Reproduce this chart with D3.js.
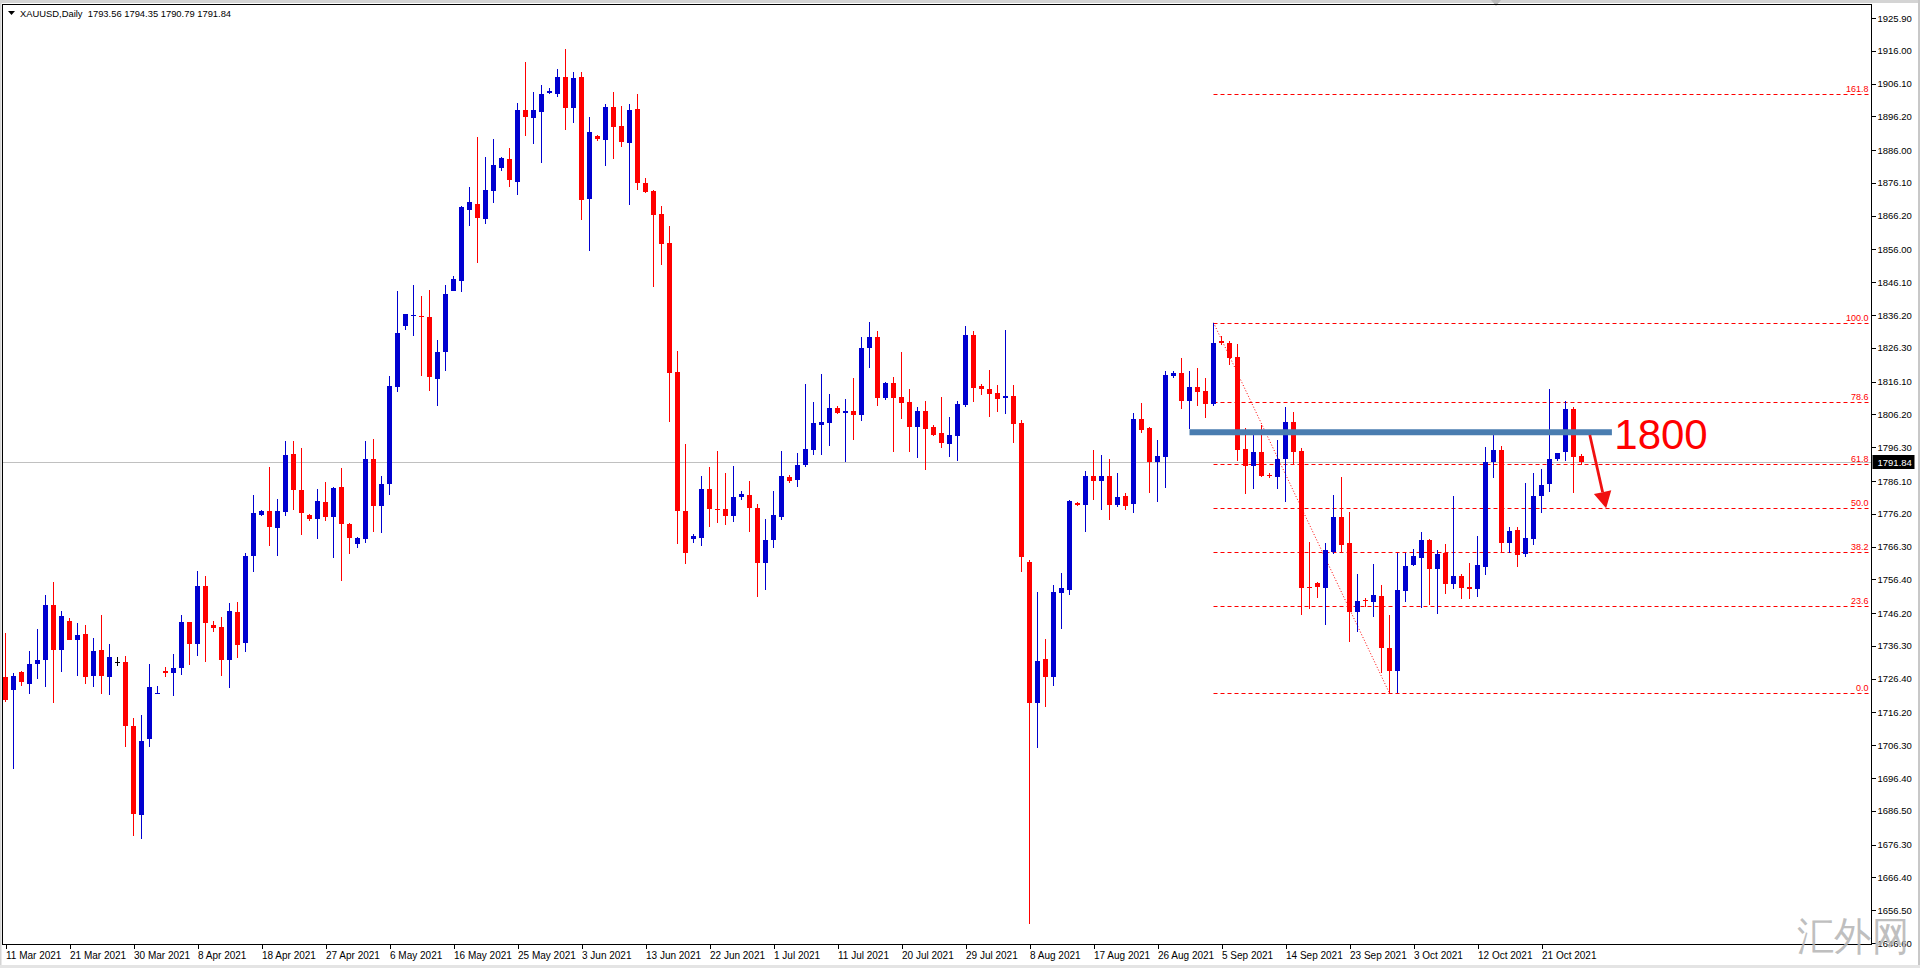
<!DOCTYPE html>
<html><head><meta charset="utf-8">
<script src="https://cdn.jsdelivr.net/npm/d3@7"></script>
<style>
html,body{margin:0;padding:0;background:#fff;overflow:hidden}
svg{display:block}
text{font-family:"Liberation Sans",Arial,sans-serif}
</style></head><body>
<svg id="c" width="1920" height="968"></svg>
<script>
// ---------------- DATA ----------------
const symbol = "XAUUSD,Daily";
const lastOHLC = [1793.56, 1794.35, 1790.79, 1791.84];
const bidPrice = 1791.84;

const tickLabels = ["11 Mar 2021","21 Mar 2021","30 Mar 2021","8 Apr 2021","18 Apr 2021","27 Apr 2021",
  "6 May 2021","16 May 2021","25 May 2021","3 Jun 2021","13 Jun 2021","22 Jun 2021","1 Jul 2021",
  "11 Jul 2021","20 Jul 2021","29 Jul 2021","8 Aug 2021","17 Aug 2021","26 Aug 2021","5 Sep 2021",
  "14 Sep 2021","23 Sep 2021","3 Oct 2021","12 Oct 2021","21 Oct 2021"];
const tickBars = [0,8,16,24,32,40,48,56,64,72,80,88,96,104,112,120,128,136,144,152,160,168,176,184,192];

const priceTicks = [1925.90,1916.00,1906.10,1896.20,1886.00,1876.10,1866.20,1856.00,1846.10,1836.20,
  1826.30,1816.10,1806.20,1796.30,1786.10,1776.20,1766.30,1756.40,1746.20,1736.30,1726.40,1716.20,
  1706.30,1696.40,1686.50,1676.30,1666.40,1656.50,1646.60];

// daily candles [open, high, low, close], bar 0 = 11 Mar 2021 ... bar 197 = 27 Oct 2021
const candles = [
 [1726.8,1740.3,1719.5,1720.0],[1723.0,1728.0,1699.2,1727.2],[1728.4,1728.7,1724.2,1725.4],[1724.8,1734.9,1721.8,1730.9],
 [1730.8,1741.4,1726.4,1732.1],[1731.9,1751.7,1724.0,1748.7],[1748.7,1755.5,1719.2,1735.1],[1735.1,1746.9,1728.5,1745.3],
 [1743.8,1744.6,1738.0,1738.1],[1738.1,1743.2,1727.2,1739.5],[1739.9,1742.5,1724.8,1727.0],[1727.2,1738.6,1724.0,1734.8],
 [1735.1,1745.6,1721.8,1727.2],[1727.0,1736.9,1721.5,1733.0],[1731.4,1732.9,1730.3,1731.4],[1731.5,1733.3,1705.9,1712.0],
 [1712.1,1714.4,1678.9,1685.6],[1685.4,1715.4,1678.1,1707.6],[1708.2,1730.7,1705.9,1724.0],[1721.7,1724.2,1721.7,1722.0],
 [1728.6,1730.0,1727.0,1728.2],[1728.2,1733.9,1721.2,1729.6],[1729.7,1745.6,1727.5,1743.5],[1743.5,1743.5,1730.6,1736.9],
 [1736.9,1758.9,1733.3,1754.4],[1754.4,1757.4,1731.3,1743.3],[1742.6,1743.8,1740.6,1741.8],[1742.1,1744.9,1727.2,1732.1],
 [1731.9,1749.4,1723.7,1746.9],[1746.6,1749.7,1732.8,1736.6],[1737.1,1764.5,1734.6,1763.5],[1763.5,1782.0,1758.5,1776.5],
 [1775.8,1777.3,1775.5,1777.0],[1777.0,1790.3,1766.6,1772.1],[1771.9,1780.7,1763.6,1777.0],[1776.6,1798.1,1775.5,1794.0],
 [1794.3,1798.1,1777.3,1783.3],[1783.3,1796.0,1769.8,1776.3],[1775.8,1776.0,1773.9,1774.7],[1774.7,1783.8,1768.7,1780.2],
 [1779.9,1785.8,1773.9,1775.2],[1775.2,1784.3,1762.8,1784.1],[1784.3,1790.0,1756.0,1773.2],[1773.2,1773.4,1764.1,1769.0],
 [1767.2,1769.2,1765.9,1769.0],[1768.7,1798.1,1767.4,1792.6],[1792.6,1798.9,1770.8,1778.7],[1778.7,1787.7,1770.4,1785.3],
 [1785.3,1817.9,1782.0,1814.8],[1814.4,1843.4,1813.0,1830.7],[1833.0,1836.6,1831.7,1836.4],[1835.8,1845.4,1830.0,1836.1],
 [1835.9,1842.1,1817.9,1835.5],[1835.6,1843.9,1813.2,1817.6],[1816.8,1828.8,1808.8,1824.9],[1824.9,1845.2,1819.4,1842.5],
 [1843.6,1848.0,1843.4,1847.2],[1846.5,1869.1,1843.2,1868.8],[1868.0,1874.8,1863.1,1870.2],[1869.8,1889.9,1851.9,1865.6],
 [1865.2,1883.9,1863.8,1873.9],[1873.8,1889.3,1869.9,1881.5],[1880.6,1883.9,1879.8,1883.6],[1883.3,1886.7,1875.0,1877.0],
 [1876.5,1900.3,1872.6,1898.2],[1898.2,1912.5,1890.4,1895.9],[1895.6,1903.5,1887.9,1898.2],[1897.6,1905.6,1882.0,1903.0],
 [1903.3,1904.7,1903.0,1903.9],[1903.0,1910.6,1902.0,1908.2],[1908.2,1916.5,1892.2,1898.7],[1898.7,1909.6,1894.3,1907.8],
 [1908.2,1909.6,1864.9,1870.8],[1871.3,1896.1,1855.5,1891.6],[1890.3,1890.5,1888.7,1889.3],[1889.1,1899.9,1881.2,1898.9],
 [1898.9,1903.7,1883.3,1892.9],[1893.3,1899.2,1887.0,1888.5],[1888.2,1899.9,1869.5,1898.1],[1898.4,1903.0,1873.9,1876.0],
 [1876.0,1877.6,1873.2,1873.5],[1873.7,1873.9,1844.6,1866.4],[1866.7,1869.0,1851.3,1857.8],[1857.9,1863.1,1803.8,1818.8],
 [1819.1,1825.3,1767.1,1777.0],[1777.0,1797.3,1760.9,1764.3],[1768.7,1770.2,1767.3,1769.5],[1768.9,1787.6,1766.6,1783.7],
 [1783.7,1790.3,1772.3,1777.5],[1777.7,1795.2,1773.3,1777.3],[1777.5,1788.4,1772.8,1775.4],[1775.4,1790.7,1773.7,1781.3],
 [1781.3,1783.2,1780.3,1782.2],[1782.0,1786.1,1770.7,1778.0],[1778.0,1779.1,1751.0,1761.4],[1761.4,1774.7,1753.3,1768.4],
 [1768.4,1783.2,1765.8,1775.7],[1775.2,1795.2,1774.4,1787.6],[1787.2,1787.9,1785.5,1786.2],[1786.4,1794.5,1784.2,1790.9],
 [1790.9,1815.3,1790.2,1795.7],[1795.4,1810.0,1793.8,1803.7],[1803.1,1818.4,1794.0,1804.0],[1803.7,1812.4,1796.6,1808.1],
 [1808.1,1808.8,1806.4,1806.5],[1806.5,1810.9,1791.7,1807.3],[1807.3,1817.2,1798.6,1806.1],[1806.1,1829.6,1804.3,1826.4],
 [1826.4,1834.2,1820.1,1829.6],[1829.6,1831.5,1808.8,1811.2],[1811.2,1816.0,1810.5,1815.6],[1815.6,1817.4,1795.0,1811.2],
 [1811.5,1825.2,1804.9,1809.7],[1809.9,1813.9,1794.8,1802.5],[1802.5,1808.5,1793.0,1807.3],[1807.3,1810.3,1789.4,1801.9],
 [1802.5,1802.9,1799.8,1800.1],[1800.7,1811.5,1796.2,1797.7],[1797.4,1805.5,1793.3,1800.1],[1799.8,1810.3,1792.1,1809.3],
 [1809.1,1832.9,1808.5,1830.3],[1830.3,1831.5,1810.0,1814.2],[1814.8,1815.3,1812.1,1813.9],[1813.9,1819.6,1805.5,1812.4],
 [1812.7,1815.0,1806.9,1810.9],[1811.1,1831.8,1806.3,1811.8],[1811.8,1815.0,1797.7,1803.4],[1803.7,1804.5,1758.7,1763.1],
 [1761.7,1762.3,1652.4,1719.2],[1719.2,1752.7,1705.4,1731.7],[1732.3,1738.4,1718.0,1726.9],[1726.9,1754.7,1724.3,1752.6],
 [1752.2,1758.3,1741.5,1753.8],[1753.2,1780.5,1751.7,1780.0],[1779.4,1779.9,1778.4,1778.9],[1778.8,1789.2,1770.8,1787.6],
 [1787.6,1795.6,1780.4,1786.2],[1786.2,1793.9,1777.4,1787.6],[1787.6,1792.6,1774.3,1778.8],[1778.8,1788.4,1778.1,1781.2],
 [1781.6,1782.6,1777.4,1778.6],[1779.2,1806.5,1776.5,1804.7],[1804.7,1809.6,1800.7,1801.5],[1802.2,1802.5,1782.6,1791.7],
 [1791.7,1798.5,1779.8,1793.7],[1793.4,1819.3,1784.1,1818.0],[1817.9,1819.4,1817.2,1818.8],[1818.8,1823.1,1807.7,1810.4],
 [1810.4,1819.3,1801.7,1814.4],[1814.4,1820.1,1808.6,1813.1],[1813.3,1817.1,1805.0,1809.4],[1809.4,1833.9,1808.8,1827.9],
 [1828.4,1829.9,1827.3,1827.7],[1827.8,1828.5,1821.1,1823.3],[1823.4,1827.5,1792.2,1795.5],[1795.7,1802.0,1782.2,1790.7],
 [1790.7,1801.3,1783.7,1794.9],[1794.9,1803.0,1787.2,1787.7],[1787.9,1788.6,1787.0,1787.6],[1787.4,1798.5,1783.8,1792.8],
 [1792.8,1808.5,1779.8,1803.9],[1803.9,1807.0,1790.9,1794.9],[1795.1,1796.1,1745.5,1753.9],[1754.2,1767.6,1747.3,1753.8],
 [1755.2,1755.7,1750.9,1754.2],[1753.9,1767.3,1742.5,1765.2],[1764.6,1781.9,1764.2,1775.2],[1775.2,1787.4,1764.4,1766.8],
 [1767.3,1776.8,1737.6,1746.4],[1746.4,1757.9,1740.6,1749.9],[1750.2,1750.7,1748.2,1749.8],[1749.7,1761.1,1744.9,1751.7],
 [1751.4,1754.7,1728.2,1735.6],[1735.6,1745.7,1722.0,1728.8],[1728.8,1764.4,1722.2,1753.2],[1753.0,1764.4,1749.6,1760.4],
 [1760.7,1765.5,1760.5,1763.5],[1762.9,1770.8,1747.9,1768.3],[1768.3,1768.5,1748.7,1759.4],[1759.4,1765.3,1745.9,1764.0],
 [1764.3,1767.1,1752.0,1755.0],[1755.0,1781.6,1753.4,1757.4],[1757.4,1757.9,1750.6,1753.9],[1754.2,1761.2,1750.4,1753.4],
 [1753.6,1769.5,1751.0,1760.7],[1760.2,1796.5,1757.7,1791.8],[1791.9,1800.5,1786.9,1795.4],[1795.4,1796.7,1764.4,1767.5],
 [1767.3,1772.3,1764.4,1771.0],[1771.3,1772.1,1760.2,1763.9],[1764.0,1785.4,1763.2,1768.8],[1768.7,1788.6,1766.8,1781.6],
 [1781.6,1789.6,1776.5,1784.9],[1785.1,1813.9,1782.9,1792.6],[1792.6,1794.7,1792.2,1794.5],[1794.9,1810.4,1792.2,1807.8],
 [1807.8,1808.3,1782.4,1793.4],[1793.56,1794.35,1790.79,1791.84]
];

// Fibonacci retracement drawn from the 3 Sep high (bar 151) to the 29 Sep low (bar 173)
const fibLevels = [0, 23.6, 38.2, 50.0, 61.8, 78.6, 100.0, 161.8];
const fibHighBar = 151, fibLowBar = 173;

// horizontal resistance annotation
const levelPrice = 1800.8, levelFromBar = 148, levelToBar = 200.8;
const levelLabel = "1800";
const labelAt = [201.1, 1795.9];               // [bar, price] of label baseline start
// arrow annotation [bar, price]
const arrowStart = [198.04, 1800.0], arrowBase = [199.64, 1782.7], arrowTip = [200.08, 1777.9];
const arrowHeadL = [198.55, 1782.2], arrowHeadR = [200.72, 1783.3];
const watermark = "汇外网";

// ---------------- DRAW ----------------
const W = 1920, H = 968;
const P = {l: 2.5, t: 4.5, r: 1871.5, b: 944.5};
const UP = "#0000d0", DOWN = "#ff0000";
const svg = d3.select("#c");

const x = d3.scaleLinear().domain([0, candles.length - 1]).range([5.5, 5.5 + 8 * (candles.length - 1)]);
const y = d3.scaleLinear().domain([1646.6, 1925.9]).range([943, 18]);

// window chrome
svg.append("rect").attr("width", W).attr("height", H).attr("fill", "#fff");
svg.append("rect").attr("x", 0).attr("y", 0).attr("width", W).attr("height", 3).attr("fill", "#d4d4d4");
svg.append("rect").attr("x", 0).attr("y", 0).attr("width", 1.5).attr("height", H).attr("fill", "#d4d4d4");
svg.append("rect").attr("x", W - 2).attr("y", 0).attr("width", 2).attr("height", H).attr("fill", "#c8c8c8");
svg.append("rect").attr("x", 0).attr("y", H - 3).attr("width", W).attr("height", 3).attr("fill", "#e4e4e4");
svg.append("path").attr("d", `M1491,0 L1501,0 L1496,6 Z`).attr("fill", "#b8b8b8");

svg.append("clipPath").attr("id", "pc").append("rect")
  .attr("x", P.l + 0.5).attr("y", P.t + 0.5).attr("width", P.r - P.l - 1).attr("height", P.b - P.t - 1);
const g = svg.append("g").attr("clip-path", "url(#pc)");

// bid line
g.append("line").attr("x1", P.l).attr("x2", P.r)
  .attr("y1", Math.round(y(bidPrice)) + 0.5).attr("y2", Math.round(y(bidPrice)) + 0.5)
  .attr("stroke", "#c0c0c0").attr("stroke-width", 1);

// fibonacci levels
const fHi = candles[fibHighBar][1], fLo = candles[fibLowBar][2];
const fibY = lv => Math.round(y(fLo + (fHi - fLo) * lv / 100)) + 0.5;
g.selectAll(".fib").data(fibLevels).join("line")
  .attr("x1", x(fibHighBar)).attr("x2", P.r)
  .attr("y1", fibY).attr("y2", fibY)
  .attr("stroke", "#ff0000").attr("stroke-width", 1).attr("stroke-dasharray", "4,3");
g.selectAll(".fibt").data(fibLevels).join("text")
  .attr("x", P.r - 3).attr("y", d => fibY(d) - 2.5)
  .attr("text-anchor", "end").attr("font-size", 9).attr("fill", "#ff0000")
  .text(d => d3.format(".1f")(d));
// fib trend line
g.append("line")
  .attr("x1", x(fibHighBar)).attr("y1", y(fHi)).attr("x2", x(fibLowBar)).attr("y2", y(fLo))
  .attr("stroke", "#ff0000").attr("stroke-width", 1).attr("stroke-dasharray", "1,2");

// candles
const cg = g.append("g").attr("shape-rendering", "crispEdges");
const col = d => d[3] > d[0] ? UP : (d[3] < d[0] ? DOWN : "#000");
cg.selectAll(".w").data(candles).join("line")
  .attr("x1", (d, i) => x(i)).attr("x2", (d, i) => x(i))
  .attr("y1", d => y(d[1])).attr("y2", d => y(d[2]))
  .attr("stroke", col).attr("stroke-width", 1);
cg.selectAll(".b").data(candles).join("rect")
  .attr("x", (d, i) => x(i) - 2.5).attr("width", 5)
  .attr("y", d => y(Math.max(d[0], d[3])))
  .attr("height", d => Math.max(1, Math.abs(y(d[0]) - y(d[3]))))
  .attr("fill", col);

// resistance band
g.append("line").attr("x1", x(levelFromBar)).attr("x2", x(levelToBar))
  .attr("y1", y(levelPrice)).attr("y2", y(levelPrice))
  .attr("stroke", "#4a7db0").attr("stroke-width", 6);

// label and arrow
g.append("text").attr("x", x(labelAt[0])).attr("y", y(labelAt[1]))
  .attr("font-size", 42).attr("fill", "#ff0000").text(levelLabel);
const pt = a => [x(a[0]), y(a[1])];
g.append("line").attr("x1", pt(arrowStart)[0]).attr("y1", pt(arrowStart)[1])
  .attr("x2", pt(arrowBase)[0]).attr("y2", pt(arrowBase)[1])
  .attr("stroke", "#f01010").attr("stroke-width", 2.8);
g.append("path").attr("d", "M" + [pt(arrowHeadL), pt(arrowTip), pt(arrowHeadR), pt(arrowBase)].map(p => p.join(",")).join("L") + "Z")
  .attr("fill", "#f01010");

// frame
svg.append("rect").attr("x", P.l).attr("y", P.t).attr("width", P.r - P.l).attr("height", P.b - P.t)
  .attr("fill", "none").attr("stroke", "#000").attr("stroke-width", 1).attr("shape-rendering", "crispEdges");

// price axis
const ya = svg.append("g").attr("transform", `translate(${P.r},0)`)
  .call(d3.axisRight(y).tickValues(priceTicks).tickFormat(d3.format(".2f")).tickSize(4).tickPadding(2));
ya.select(".domain").remove();
ya.selectAll("line").attr("stroke", "#000").attr("shape-rendering", "crispEdges");
ya.selectAll("text").attr("font-size", 9.5).attr("fill", "#000").attr("font-family", "Liberation Sans, Arial, sans-serif");

// bid box
const by = Math.round(y(bidPrice));
svg.append("rect").attr("x", P.r + 1).attr("y", by - 7).attr("width", 42).attr("height", 14).attr("fill", "#000");
svg.append("text").attr("x", P.r + 6).attr("y", by + 3.5).attr("font-size", 9.5).attr("fill", "#fff").text(d3.format(".2f")(bidPrice));

// date axis
const xa = svg.append("g").attr("transform", `translate(0,${P.b})`)
  .call(d3.axisBottom(x).tickValues(tickBars).tickFormat((d, i) => tickLabels[i]).tickSize(4).tickPadding(3));
xa.select(".domain").remove();
xa.selectAll("line").attr("stroke", "#000").attr("shape-rendering", "crispEdges");
xa.selectAll("text").attr("text-anchor", "start").attr("dx", 0).attr("font-size", 10)
  .attr("fill", "#000").attr("font-family", "Liberation Sans, Arial, sans-serif");

// header
svg.append("path").attr("d", "M8,11 L15,11 L11.5,15 Z").attr("fill", "#000");
svg.append("text").attr("x", 20).attr("y", 17).attr("font-size", 9.4).attr("fill", "#000")
  .style("white-space", "pre")
  .text(symbol + "  " + lastOHLC.map(d3.format(".2f")).join(" "));

// watermark
svg.append("text").attr("x", 1797).attr("y", 950).attr("font-size", 40).attr("font-weight", 300)
  .attr("font-family", "Noto Sans CJK SC, sans-serif").attr("fill", "#b4b4b4").attr("fill-opacity", 0.85)
  .attr("textLength", 112).attr("lengthAdjust", "spacingAndGlyphs")
  .text(watermark);
</script>
</body></html>
